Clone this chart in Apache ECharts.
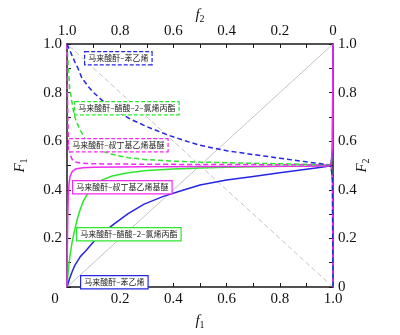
<!DOCTYPE html>
<html>
<head>
<meta charset="utf-8">
<script src="https://cdn.jsdelivr.net/npm/echarts@6/dist/echarts.min.js"></script>
<style>
  html, body { margin: 0; padding: 0; background: #fff; }
  #chart { width: 400px; height: 335px; }
</style>
</head>
<body>
<div id="chart"></div>
<script>
// Copolymer composition curves for maleic anhydride (M1) systems.
// Solid curves: F1 vs f1 (bottom / left axes).
// Dashed curves: F2 vs f2 (top / right axes, f2 runs 1 → 0).

const tickValues = [0, 0.2, 0.4, 0.6, 0.8, 1.0];

const systemNames = [
  '马来酸酐–苯乙烯',
  '马来酸酐–醋酸–2–氯烯丙酯',
  '马来酸酐–叔丁基乙烯基醚'
];

// [f1, F1]
const styreneF1 = [
  [0, 0], [0.01, 0.035], [0.02, 0.065], [0.03, 0.09], [0.05, 0.125], [0.07, 0.148],
  [0.1, 0.186], [0.14, 0.228], [0.18, 0.262], [0.23, 0.302], [0.29, 0.341],
  [0.36, 0.372], [0.42, 0.393], [0.5, 0.42], [0.6, 0.44], [0.7, 0.455],
  [0.8, 0.47], [0.9, 0.485], [0.95, 0.492], [0.98, 0.497], [0.993, 0.505],
  [0.998, 0.56], [1, 1]
];
const chloroallylF1 = [
  [0, 0], [0.005, 0.07], [0.01, 0.12], [0.02, 0.19], [0.03, 0.24], [0.04, 0.285],
  [0.05, 0.32], [0.06, 0.35], [0.08, 0.39], [0.1, 0.415], [0.13, 0.44],
  [0.17, 0.457], [0.23, 0.47], [0.3, 0.479], [0.4, 0.486], [0.5, 0.49],
  [0.6, 0.493], [0.7, 0.495], [0.8, 0.497], [0.9, 0.498], [0.97, 0.499],
  [0.993, 0.505], [0.998, 0.56], [1, 1]
];
const vinylEtherF1 = [
  [0, 0], [0.001, 0.12], [0.002, 0.22], [0.003, 0.3], [0.005, 0.38], [0.008, 0.43],
  [0.012, 0.457], [0.02, 0.476], [0.035, 0.487], [0.06, 0.491], [0.1, 0.493],
  [0.3, 0.495], [0.6, 0.496], [0.9, 0.497], [0.98, 0.498], [0.993, 0.505],
  [0.998, 0.58], [1, 1]
];

// [f2, F2]
const styreneF2 = [
  [1, 1], [0.99, 0.975], [0.98, 0.95], [0.97, 0.925], [0.96, 0.903], [0.944, 0.86],
  [0.92, 0.825], [0.9, 0.8], [0.87, 0.77], [0.82, 0.727], [0.76, 0.69],
  [0.7, 0.66], [0.62, 0.625], [0.55, 0.6], [0.5, 0.583], [0.4, 0.561],
  [0.3, 0.545], [0.2, 0.53], [0.1, 0.515], [0.05, 0.508], [0.02, 0.503],
  [0.007, 0.495], [0.002, 0.44], [0, 0]
];
const chloroallylF2 = [
  [1, 1], [0.995, 0.9], [0.99, 0.82], [0.983, 0.77], [0.975, 0.72], [0.965, 0.68],
  [0.95, 0.645], [0.93, 0.605], [0.91, 0.585], [0.88, 0.565], [0.84, 0.548],
  [0.77, 0.532], [0.7, 0.524], [0.6, 0.518], [0.5, 0.514], [0.3, 0.509],
  [0.1, 0.505], [0.03, 0.502], [0.007, 0.497], [0.002, 0.44], [0, 0]
];
const vinylEtherF2 = [
  [1, 1], [0.999, 0.88], [0.998, 0.78], [0.997, 0.7], [0.995, 0.62], [0.992, 0.57],
  [0.988, 0.543], [0.98, 0.524], [0.965, 0.513], [0.94, 0.509], [0.9, 0.507],
  [0.7, 0.505], [0.4, 0.504], [0.1, 0.503], [0.02, 0.502], [0.007, 0.497],
  [0.002, 0.43], [0, 0]
];

// Reference diagonals F = f
const idealLine = [[0, 0], [1, 1]];

const BLUE = '#2626e6';
const GREEN = '#2ee62e';
const MAGENTA = '#f02cf0';
const GREY = '#c4c4c4';

const serif = 'Liberation Serif';
const cjk = 'Noto Sans CJK SC';

function tickText(v) {
  return v === 0 ? '0' : v.toFixed(1);
}

function axisBase(pos) {
  return {
    type: 'value', min: 0, max: 1, interval: 0.2, position: pos,
    axisLine: { show: true, onZero: false, lineStyle: { color: '#1a1a1a', width: 1.5 } },
    axisTick: { show: true, inside: true, length: 4, lineStyle: { color: '#1a1a1a', width: 1 } },
    minorTick: { show: true, splitNumber: 2, length: 4, lineStyle: { color: '#1a1a1a', width: 1 } },
    splitLine: { show: false },
    minorSplitLine: { show: false },
    nameMoveOverlap: false,
    axisLabel: { color: '#111', fontFamily: serif, fontSize: 15, margin: 5, formatter: tickText }
  };
}

const nameRich = {
  i: { fontFamily: serif, fontStyle: 'italic', fontSize: 15, color: '#111', lineHeight: 18 },
  s: { fontFamily: serif, fontSize: 10, color: '#111', lineHeight: 18, verticalAlign: 'bottom', padding: [9, 0, 0, 0] }
};

const xBottom = Object.assign(axisBase('bottom'), {
  name: '{i|f}{s|1}', nameLocation: 'middle', nameGap: 25,
  nameTextStyle: { rich: nameRich }
});
xBottom.axisLabel = Object.assign({}, xBottom.axisLabel, {
  formatter: v => v === 0 ? '{z|0}' : tickText(v),
  rich: { z: { fontFamily: serif, fontSize: 15, color: '#111', padding: [0, 24, 0, 0] } }
});

const xTop = Object.assign(axisBase('top'), {
  inverse: true,
  name: '{i|f}{s|2}', nameLocation: 'middle', nameGap: 20,
  nameTextStyle: { rich: nameRich }
});

const yLeft = Object.assign(axisBase('left'), {
  name: '{i|F}{s|1}', nameLocation: 'middle', nameGap: 38, nameRotate: 90,
  nameTextStyle: { rich: nameRich }
});
yLeft.axisLabel = Object.assign({}, yLeft.axisLabel, {
  formatter: v => v === 0 ? '' : tickText(v)
});

const yRight = Object.assign(axisBase('right'), {
  name: '{i|F}{s|2}', nameLocation: 'middle', nameGap: 20, nameRotate: 90,
  nameTextStyle: { rich: nameRich }
});

function curve(data, color, dashed, xi, yi) {
  return {
    type: 'line', data: data, xAxisIndex: xi, yAxisIndex: yi,
    showSymbol: false, symbol: 'none', clip: false, smooth: false,
    lineStyle: { color: color, width: 1.5, type: dashed ? [5, 3] : 'solid' },
    silent: true
  };
}

// Legend-style annotation boxes drawn inside the plot
function tag(text, color, dashed, left, top) {
  return {
    type: 'text', left: left, top: top, z: 100,
    style: {
      text: text, fill: '#222', font: '8px "' + cjk + '"',
      backgroundColor: '#fff', borderColor: color, borderWidth: 1.2,
      borderDash: dashed ? [4, 2] : null,
      padding: [1, 3, 1, 3], lineHeight: 10
    }
  };
}

const chart = echarts.init(document.getElementById('chart'), null, { renderer: 'canvas' });
chart.setOption({
  animation: false,
  backgroundColor: '#fff',
  grid: { left: 67, right: 67, top: 42, bottom: 42, containLabel: false },
  xAxis: [xBottom, xTop],
  yAxis: [yLeft, yRight],
  series: [
    {
      type: 'line', data: idealLine, xAxisIndex: 0, yAxisIndex: 0, showSymbol: false,
      lineStyle: { color: GREY, width: 1 }, silent: true
    },
    {
      type: 'line', data: idealLine, xAxisIndex: 1, yAxisIndex: 1, showSymbol: false,
      lineStyle: { color: GREY, width: 1, type: [5, 3] }, silent: true
    },
    curve(chloroallylF2, GREEN, true, 1, 1),
    curve(vinylEtherF2, MAGENTA, true, 1, 1),
    curve(styreneF2, BLUE, true, 1, 1),
    curve(chloroallylF1, GREEN, false, 0, 0),
    curve(styreneF1, BLUE, false, 0, 0),
    curve(vinylEtherF1, MAGENTA, false, 0, 0)
  ],
  graphic: [
    tag(systemNames[0], BLUE, true, 84, 51),
    tag(systemNames[1], GREEN, true, 74, 101),
    tag(systemNames[2], MAGENTA, true, 68, 138),
    tag(systemNames[2], MAGENTA, false, 72, 180),
    tag(systemNames[1], GREEN, false, 76, 227),
    tag(systemNames[0], BLUE, false, 80, 275)
  ]
});
</script>
</body>
</html>
